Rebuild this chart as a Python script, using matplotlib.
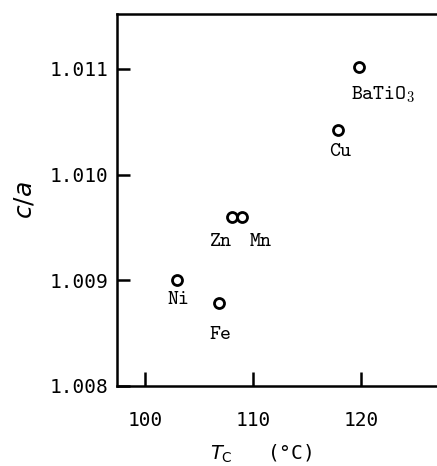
import matplotlib
matplotlib.use("Agg")
import matplotlib.pyplot as plt

# Curie temperature (deg C) vs tetragonality c/a for doped BaTiO3
names = ["BaTiO_3", "Cu", "Zn", "Mn", "Ni", "Fe"]
tc = [119.8, 117.8, 108.0, 109.0, 102.9, 106.8]
ca = [1.01102, 1.01042, 1.00960, 1.00960, 1.00900, 1.00878]

# label offsets in points (dx, dy) from each marker
offs = [(17, -20), (2, -14), (-8, -17), (13, -17), (1, -13), (1, -21)]

xticks = [100, 110, 120]
yticks = [1.008, 1.009, 1.010, 1.011]
ytick_labels = ["1.008", "1.009", "1.010", "1.011"]

fig = plt.figure(figsize=(4.37, 4.66), dpi=100)
ax = fig.add_axes([0.268, 0.172, 0.732, 0.798])

ax.plot(tc, ca, 'o', mfc='white', mec='black', mew=2.0, ms=7.2, ls='none')

for n, x, y, (dx, dy) in zip(names, tc, ca, offs):
    if '_' in n:
        base, sub = n.split('_')
        txt = '$\\mathtt{%s}_{\\mathtt{%s}}$' % (base, sub)
    else:
        txt = '$\\mathtt{%s}$' % n
    ax.annotate(txt, (x, y), xytext=(dx, dy), textcoords='offset points',
                ha='center', va='center', fontsize=15, math_fontfamily='cm')

ax.set_xlim(97.4, 127.0)
ax.set_ylim(1.008, 1.01152)
ax.set_xticks(xticks)
ax.set_xticklabels([str(v) for v in xticks])
ax.set_yticks(yticks)
ax.set_yticklabels(ytick_labels)

for s in ['left', 'bottom', 'top']:
    ax.spines[s].set_linewidth(1.8)
ax.spines['right'].set_visible(False)

ax.tick_params(axis='x', direction='in', length=10, width=1.8, pad=18,
               labelsize=14)
ax.tick_params(axis='y', direction='in', length=9.5, width=1.8, pad=6,
               labelsize=14)
for lbl in ax.get_xticklabels() + ax.get_yticklabels():
    lbl.set_family('DejaVu Sans Mono')

ax.set_ylabel('$c/a$', fontsize=18, labelpad=10)
ax.set_xlabel('$T_{\\mathrm{C}}$   (°C)', fontsize=14,
              family='DejaVu Sans Mono')
ax.xaxis.set_label_coords(0.45, -0.152)

fig.savefig('out.png', dpi=100)
